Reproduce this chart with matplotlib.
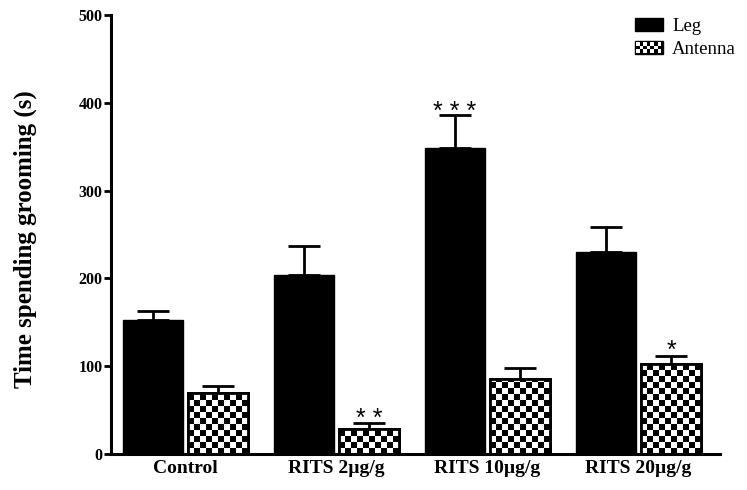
import numpy as np
import matplotlib
matplotlib.use('Agg')
import matplotlib.pyplot as plt
from matplotlib.patches import Patch, Rectangle
from matplotlib.legend_handler import HandlerBase

# Data
groups = ['Control', 'RITS 2µg/g', 'RITS 10µg/g', 'RITS 20µg/g']
leg_mean = [153, 204, 349, 230]
leg_err = [10, 33, 37, 29]
antenna_mean = [70, 29, 86, 103]
antenna_err = [7, 6, 12, 9]
leg_stars = ['', '', '* * *', '']
antenna_stars = ['', '* *', '', '*']

plt.rcParams['font.family'] = ['Liberation Serif', 'DejaVu Serif']


class HandlerChecker(HandlerBase):
    # black box with a small white checker inside, like the antenna bars
    def create_artists(self, legend, orig_handle, xdescent, ydescent,
                       width, height, fontsize, trans):
        arts = [Rectangle((-xdescent, -ydescent), width, height,
                          facecolor='black', edgecolor='black', transform=trans)]
        ncol, nrow = 7, 3
        pad = 0.12 * height
        cw = (width - 2 * pad) / ncol
        ch = (height - 2 * pad) / nrow
        for r in range(nrow):
            for c in range(ncol):
                if (r + c) % 2 == 0:
                    arts.append(Rectangle((-xdescent + pad + c * cw, -ydescent + pad + r * ch),
                                          cw, ch, facecolor='white', edgecolor='none',
                                          transform=trans))
        return arts


fig = plt.figure(figsize=(7.47, 4.9), dpi=100)
ax = fig.add_axes([0.1486, 0.0735, 0.8154, 0.8955])

x = np.arange(len(groups))
w = 0.397
off = 0.215

leg_bars = ax.bar(x - off, leg_mean, w, color='black', edgecolor='black', zorder=2)
ant_bars = ax.bar(x + off, antenna_mean, w, color='white', edgecolor='black', linewidth=2, zorder=2)

# checkerboard fill for the antenna bars (cells about 6 px square)
checker = np.indices((200, 200)).sum(axis=0) % 2
for b in ant_bars:
    x0, y0 = b.get_x(), b.get_y()
    h = b.get_height()
    ncol = 10
    cell_w = b.get_width() / ncol
    cell_h = cell_w * 151 / 0.878
    nrow = int(np.ceil(h / cell_h)) + 1
    img = checker[:nrow, :ncol]
    im = ax.imshow(img, cmap='gray_r', interpolation='nearest', origin='lower',
                   extent=[x0, x0 + ncol * cell_w, y0, y0 + nrow * cell_h],
                   aspect='auto', zorder=2.5, vmin=0, vmax=1)
    im.set_clip_path(b)
    ax.add_patch(Rectangle((x0, y0), b.get_width(), h, fill=False,
                           edgecolor='black', linewidth=2, zorder=3))

ax.errorbar(x - off, leg_mean, yerr=[np.zeros(4), leg_err], fmt='none',
            ecolor='black', elinewidth=2, capsize=11.5, capthick=2, zorder=1)
ax.errorbar(x + off, antenna_mean, yerr=[np.zeros(4), antenna_err], fmt='none',
            ecolor='black', elinewidth=2, capsize=11.5, capthick=2, zorder=1)

for i in range(len(groups)):
    if leg_stars[i]:
        ax.text(x[i] - off, leg_mean[i] + leg_err[i] - 4, leg_stars[i],
                ha='center', va='baseline', fontsize=18, family='Liberation Sans')
    if antenna_stars[i]:
        ax.text(x[i] + off, antenna_mean[i] + antenna_err[i] - 3, antenna_stars[i],
                ha='center', va='baseline', fontsize=18, family='Liberation Sans')

ax.set_xlim(-0.493, 3.54)
ax.set_ylim(0, 500)
ax.set_yticks([0, 100, 200, 300, 400, 500])
ax.set_xticks(x)
ax.set_xticklabels(groups, fontweight='bold', fontsize=14)
ax.tick_params(axis='x', length=0, pad=4)
ax.tick_params(axis='y', length=5, width=2, labelsize=11.5, pad=1)
for lab in ax.get_yticklabels():
    lab.set_fontweight('bold')

for s in ['top', 'right']:
    ax.spines[s].set_visible(False)
for s in ['left', 'bottom']:
    ax.spines[s].set_linewidth(2.2)

ax.set_ylabel('Time spending grooming (s)', fontsize=18, fontweight='bold')
ax.yaxis.set_label_coords(-0.122, 0.49)

handles = [Patch(facecolor='black', edgecolor='black', label='Leg'),
           Patch(facecolor='white', edgecolor='black', label='Antenna')]
ax.legend(handles=handles, loc='upper left', bbox_to_anchor=(0.832, 1.033),
          frameon=False, fontsize=13.5, handlelength=1.5, handleheight=0.75,
          handletextpad=0.5, labelspacing=0.3,
          handler_map={handles[1]: HandlerChecker()})

fig.savefig('out.png', dpi=100)
